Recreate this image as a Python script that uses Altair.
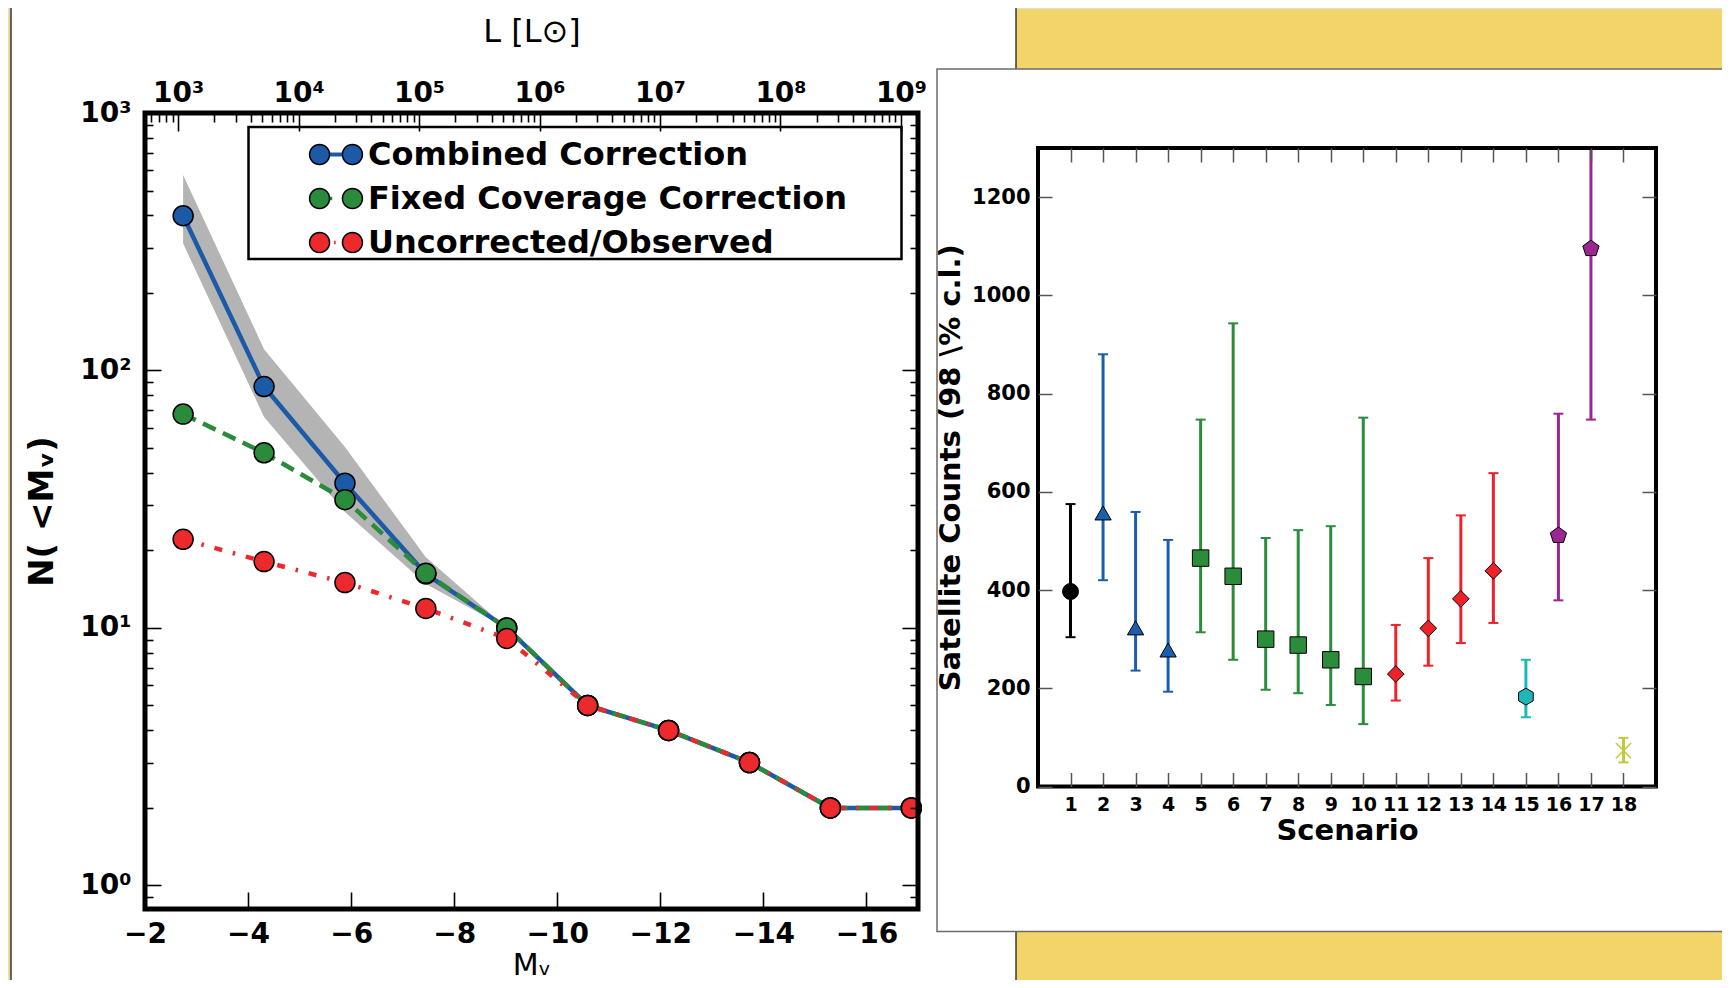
import altair as alt
import pandas as pd

# ---------------- left panel: cumulative luminosity function ----------------
mv = [-2.74, -4.31, -5.88, -7.45, -9.02, -10.59, -12.16, -13.73, -15.30, -16.87]
n_combined = [399, 86.6, 36.5, 16.2, 10, 5, 4, 3, 2, 2]
n_fixed = [67.7, 47.9, 31.5, 16.3, 10, 5, 4, 3, 2, 2]
n_observed = [22.1, 18.1, 15.0, 11.9, 9.1, 5, 4, 3, 2, 2]
band_mv = [-2.74, -4.31, -5.88, -7.45, -9.02]
band_low = [311, 66, 28.2, 14.8, 10]
band_high = [574, 121, 50.5, 18.8, 10]
series = ["Combined Correction", "Fixed Coverage Correction", "Uncorrected/Observed"]

mv_ticks = [-2, -4, -6, -8, -10, -12, -14, -16]
n_major = [1, 10, 100, 1000]
n_minor = [0.9] + [k * 10 ** e for e in range(0, 3) for k in range(2, 10)]
l_major = [1e3, 1e4, 1e5, 1e6, 1e7, 1e8, 1e9]
l_minor = [k * 10.0 ** e for e in range(2, 9) for k in range(2, 10) if 540 <= k * 10.0 ** e <= 1.3e9]
n_labels = ["10⁰", "10¹", "10²", "10³"]
l_labels = ["10³", "10⁴", "10⁵", "10⁶", "10⁷", "10⁸", "10⁹"]

# ---------------- right panel: satellite counts per scenario ----------------
scenario = list(range(1, 19))
counts = [397, 557, 323, 278, 465, 428, 300, 288, 258, 224, 229, 322, 382, 439, 183, 511, 1095, 73]
low = [304, 420, 236, 193, 314, 258, 197, 190, 166, 127, 175, 246, 292, 333, 141, 379, 747, 49]
high = [575, 880, 559, 502, 747, 943, 506, 522, 530, 751, 329, 465, 552, 638, 258, 759, 1320, 99]
group = ["A", "B", "B", "B", "C", "C", "C", "C", "C", "C", "D", "D", "D", "D", "E", "F", "F", "G"]
s_ticks = list(range(1, 19))
c_ticks = [0, 200, 400, 600, 800, 1000, 1200]

# ---------------- styles ----------------
YELLOW = "#f2d468"
BLUE, GREEN, RED, BAND = "#1c5aa8", "#2a8b3b", "#ec2a2e", "#b4b4b4"
groups = ["A", "B", "C", "D", "E", "F", "G"]
group_colors = ["#000000", "#1a5fae", "#2b8c3c", "#ee2228", "#1fb8b8", "#9b2692", "#c4c83c"]
HEX = "M0,-1 L-0.866,-0.5 L-0.866,0.5 L0,1 L0.866,0.5 L0.866,-0.5 Z"
PENT = "M0,-1 L-0.951,-0.309 L-0.588,0.809 L0.588,0.809 L0.951,-0.309 Z"
DIAM = "M-1,0 L0,-1 L1,0 L0,1 Z"
XSHAPE = "M-1,-1 L1,1 M-1,1 L1,-1"
group_shapes = ["circle", "triangle-up", "square", DIAM, HEX, PENT, XSHAPE]
group_sizes = [256, 300, 225, 484, 230, 250, 230]
FONT = "DejaVu Sans"


def circ(cx, r=0.377, n=28):
    import math
    pts = [(cx + r * math.cos(2 * math.pi * i / n), r * math.sin(2 * math.pi * i / n)) for i in range(n)]
    return "M" + " L".join(f"{x:.4f},{y:.4f}" for x, y in pts) + " Z"


def rect(x0, x1, h):
    return f"M{x0},{-h} L{x1},{-h} L{x1},{h} L{x0},{h} Z"


circles = circ(-0.62) + " " + circ(0.62)
leg_full = [circles + " " + rect(-0.3, 0.3, 0.08),
            circles + " " + rect(-0.25, -0.14, 0.07),
            circles + " " + rect(-0.07, -0.01, 0.07)]
leg_circ = [circles, circles, circles]

# ---------------- scales (pixel ranges inside a single canvas) ----------------
W, H = 1714, 972
XM = alt.Scale(domain=[-17, -2], range=[910, 137], nice=False, zero=False)
YN = alt.Scale(type="log", domain=[0.81, 1000], range=[901, 105], nice=False)
XL = alt.Scale(type="log", domain=[532, 1.384e9], range=[137, 910], nice=False)
XS = alt.Scale(domain=[0, 19], range=[1030, 1648], nice=False, zero=False)
YS = alt.Scale(domain=[0, 1300], range=[778.5, 140], nice=False, clamp=True)


def lab_axis(orient, offset, values, expr=None, size=28, pad=10, title=None, tsize=28, tweight="normal",
             tpad=4, fmt=None):
    kw = dict(orient=orient, offset=offset, values=values, ticks=False, tickSize=0, domain=False, grid=False,
              labelFont=FONT, labelFontSize=size, labelFontWeight="bold", labelColor="black",
              labelPadding=pad, labelFlush=False, labelOverlap=False, zindex=1)
    if expr:
        kw["labelExpr"] = expr
    if fmt:
        kw["format"] = fmt
    if title:
        kw.update(title=title, titleFont=FONT, titleFontSize=tsize, titleFontWeight=tweight,
                  titleColor="black", titlePadding=tpad)
    else:
        kw["title"] = None
    return alt.Axis(**kw)


def tick_axis(orient, offset, values, size, color="black", width=1.6):
    return alt.Axis(orient=orient, offset=offset, values=values, labels=False, ticks=True, tickSize=size,
                    tickColor=color, tickWidth=width, domain=False, grid=False, title=None, zindex=1)


one = pd.DataFrame({"k": [0]})
left = pd.DataFrame({"mv": mv, "combined": n_combined, "fixed": n_fixed, "observed": n_observed})
band = pd.DataFrame({"mv": band_mv, "lo": band_low, "hi": band_high})
ldf = pd.DataFrame({"L": l_major})
legdf = pd.DataFrame({"s": series})
right = pd.DataFrame({"scenario": scenario, "count": counts, "low": low, "high": high, "group": group})

n_expr = "[" + ",".join(f"'{t}'" for t in n_labels) + "][round(log(datum.value)/LN10)]"
l_expr = "[" + ",".join(f"'{t}'" for t in l_labels) + "][round(log(datum.value)/LN10)-3]"

layers = []
# panels
layers.append(alt.Chart(one).mark_rect(fill="white", stroke="#3a3a3a", strokeWidth=1.5).encode(
    x=alt.value(3), x2=alt.value(1008), y=alt.value(-4), y2=alt.value(992)))
layers.append(alt.Chart(one).mark_rect(fill="white", stroke="#6b6b6b", strokeWidth=1.5).encode(
    x=alt.value(929), x2=alt.value(1740), y=alt.value(61), y2=alt.value(923.5)))

# band
layers.append(alt.Chart(band).mark_area(color=BAND, opacity=1).encode(
    x=alt.X("mv:Q", scale=XM, axis=None),
    y=alt.Y("lo:Q", scale=YN, axis=tick_axis("right", 137 - W, n_minor, 8)),
    y2="hi:Q"))

# combined
layers.append(alt.Chart(left).mark_line(color=BLUE, strokeWidth=4.5).encode(
    x=alt.X("mv:Q", scale=XM, axis=lab_axis("bottom", 901 - H, mv_ticks, pad=11, title="Mᵥ", tsize=30, tpad=2)),
    y=alt.Y("combined:Q", scale=YN, axis=lab_axis("left", -137, n_major, n_expr, pad=14,
                                                  title="N( <Mᵥ)", tsize=34, tweight="bold", tpad=20))))
layers.append(alt.Chart(left).mark_point(filled=True, fill=BLUE, stroke="black", strokeWidth=1.5, size=400, opacity=1).encode(
    x=alt.X("mv:Q", scale=XM, axis=None), y=alt.Y("combined:Q", scale=YN, axis=None)))
# fixed
layers.append(alt.Chart(left).mark_line(color=GREEN, strokeWidth=4.5, strokeDash=[14, 8]).encode(
    x=alt.X("mv:Q", scale=XM, axis=tick_axis("top", -901, mv_ticks, 17)),
    y=alt.Y("fixed:Q", scale=YN, axis=tick_axis("right", 137 - W, n_major, 16))))
layers.append(alt.Chart(left).mark_point(filled=True, fill=GREEN, stroke="black", strokeWidth=1.5, size=400, opacity=1).encode(
    x=alt.X("mv:Q", scale=XM, axis=None), y=alt.Y("fixed:Q", scale=YN, axis=None)))
# observed
layers.append(alt.Chart(left).mark_line(color=RED, strokeWidth=4.5, strokeDash=[8, 11, 2.5, 11]).encode(
    x=alt.X("mv:Q", scale=XM, axis=None),
    y=alt.Y("observed:Q", scale=YN, axis=tick_axis("left", -910, n_major, 16))))
layers.append(alt.Chart(left).mark_point(filled=True, fill=RED, stroke="black", strokeWidth=1.5, size=400, opacity=1).encode(
    x=alt.X("mv:Q", scale=XM, axis=None), y=alt.Y("observed:Q", scale=YN, axis=None)))
# left frame
layers.append(alt.Chart(one).mark_rect(fillOpacity=0, stroke="black", strokeWidth=5).encode(
    x=alt.XDatum(-2, type="quantitative", scale=XM, axis=None), x2=alt.X2Datum(-17),
    y=alt.YDatum(0.81, type="quantitative", scale=YN, axis=tick_axis("left", -910, n_minor, 8)),
    y2=alt.Y2Datum(1000)))
# top luminosity axis
layers.append(alt.Chart(ldf).mark_point(opacity=0).encode(
    x=alt.X("L:Q", scale=XL, axis=lab_axis("top", -105, l_major, l_expr, pad=6,
                                           title="L [L⊙]", tsize=32, tpad=31)), y=alt.value(0)))
layers.append(alt.Chart(ldf).mark_point(opacity=0).encode(
    x=alt.X("L:Q", scale=XL, axis=tick_axis("bottom", 105 - H, l_major, 18)), y=alt.value(0)))
layers.append(alt.Chart(ldf).mark_point(opacity=0).encode(
    x=alt.X("L:Q", scale=XL, axis=tick_axis("bottom", 105 - H, l_minor, 9)), y=alt.value(0)))

# legend (two overlaid legends: line+fill, then outlined circles)
leg_kw = dict(orient="none", legendX=240.5, legendY=119, symbolSize=2809,
              labelFont=FONT, labelFontSize=32, labelFontWeight="bold", labelOffset=4.5, labelLimit=0,
              padding=0, rowPadding=0, symbolOffset=60,
              title="MM", titleOrient="right", titleFontSize=22, titleFontWeight="bold",
              titleColor="transparent", titlePadding=10)
legA = alt.Legend(fillColor="white", strokeColor="black", labelColor="black", **leg_kw)
legB = alt.Legend(labelColor="transparent", **leg_kw)
layers.append(alt.Chart(legdf).mark_point(filled=True, opacity=1, strokeWidth=0, size=2809).encode(
    color=alt.Color("s:N", scale=alt.Scale(domain=series, range=[BLUE, GREEN, RED]), legend=legA),
    shape=alt.Shape("s:N", scale=alt.Scale(domain=series, range=leg_full), legend=legA)
).transform_filter("false"))
layers.append(alt.Chart(legdf).mark_point(filled=True, opacity=1, stroke="black", strokeWidth=1.5, size=2809).encode(
    fill=alt.Fill("s:N", scale=alt.Scale(domain=series, range=[BLUE, GREEN, RED]), legend=legB),
    shape=alt.Shape("s:N", scale=alt.Scale(domain=series, range=leg_circ), legend=legB)
).transform_filter("false"))

# ---------------- right panel ----------------
gcol = alt.Color("group:N", scale=alt.Scale(domain=groups, range=group_colors), legend=None)
layers.append(alt.Chart(right).mark_rule(strokeWidth=3).encode(
    x=alt.X("scenario:Q", scale=XS, axis=lab_axis("bottom", 778.5 - H, s_ticks, size=19, pad=9,
                                                  title="Scenario", tsize=29, tweight="bold", tpad=2)),
    y=alt.Y("low:Q", scale=YS, axis=lab_axis("left", -1030, c_ticks, size=21, pad=8,
                                             title="Satellite Counts (98 \\% c.l.)", tsize=29,
                                             tweight="bold", tpad=6, fmt="d")),
    y2="high:Q", color=gcol))
layers.append(alt.Chart(right).mark_tick(orient="horizontal", size=10, thickness=2, opacity=1).encode(
    x=alt.X("scenario:Q", scale=XS, axis=tick_axis("top", -778.5, s_ticks, 14, "#555555", 1.5)),
    y=alt.Y("low:Q", scale=YS, axis=tick_axis("right", 1030 - W, c_ticks, 14, "#555555", 1.5)),
    color=gcol))
layers.append(alt.Chart(right).mark_tick(orient="horizontal", size=10, thickness=2, opacity=1).encode(
    x=alt.X("scenario:Q", scale=XS, axis=tick_axis("bottom", 140 - H, s_ticks, 14, "#555555", 1.5)),
    y=alt.Y("high:Q", scale=YS, axis=tick_axis("left", -1648, c_ticks, 14, "#555555", 1.5)),
    color=gcol))
layers.append(alt.Chart(right).mark_point(filled=True, opacity=1, stroke="black", strokeWidth=1).encode(
    x=alt.X("scenario:Q", scale=XS, axis=None),
    y=alt.Y("count:Q", scale=YS, axis=None),
    color=gcol,
    shape=alt.Shape("group:N", scale=alt.Scale(domain=groups, range=group_shapes), legend=None),
    size=alt.Size("group:N", scale=alt.Scale(domain=groups, range=group_sizes), legend=None)
).transform_filter("datum.group != 'G'"))
layers.append(alt.Chart(right).mark_point(filled=False, opacity=1, strokeWidth=1.5, shape=XSHAPE, size=230).encode(
    x=alt.X("scenario:Q", scale=XS, axis=None),
    y=alt.Y("count:Q", scale=YS, axis=None),
    color=gcol
).transform_filter("datum.group == 'G'"))
layers.append(alt.Chart(one).mark_rect(fillOpacity=0, stroke="black", strokeWidth=4).encode(
    x=alt.XDatum(0, type="quantitative", scale=XS, axis=None), x2=alt.X2Datum(19),
    y=alt.YDatum(0, type="quantitative", scale=YS, axis=None), y2=alt.Y2Datum(1300)))

chart = alt.layer(*layers).resolve_scale(
    x="independent", y="independent", color="independent", fill="independent",
    shape="independent", size="independent"
).properties(
    width=W, height=H, autosize=alt.AutoSizeParams(type="none"), padding=0, background=YELLOW
).configure_view(stroke=None).configure(font=FONT).configure_legend(strokeWidth=2.5)

chart.save("out.html", embed_options={"renderer": "svg", "actions": False})
